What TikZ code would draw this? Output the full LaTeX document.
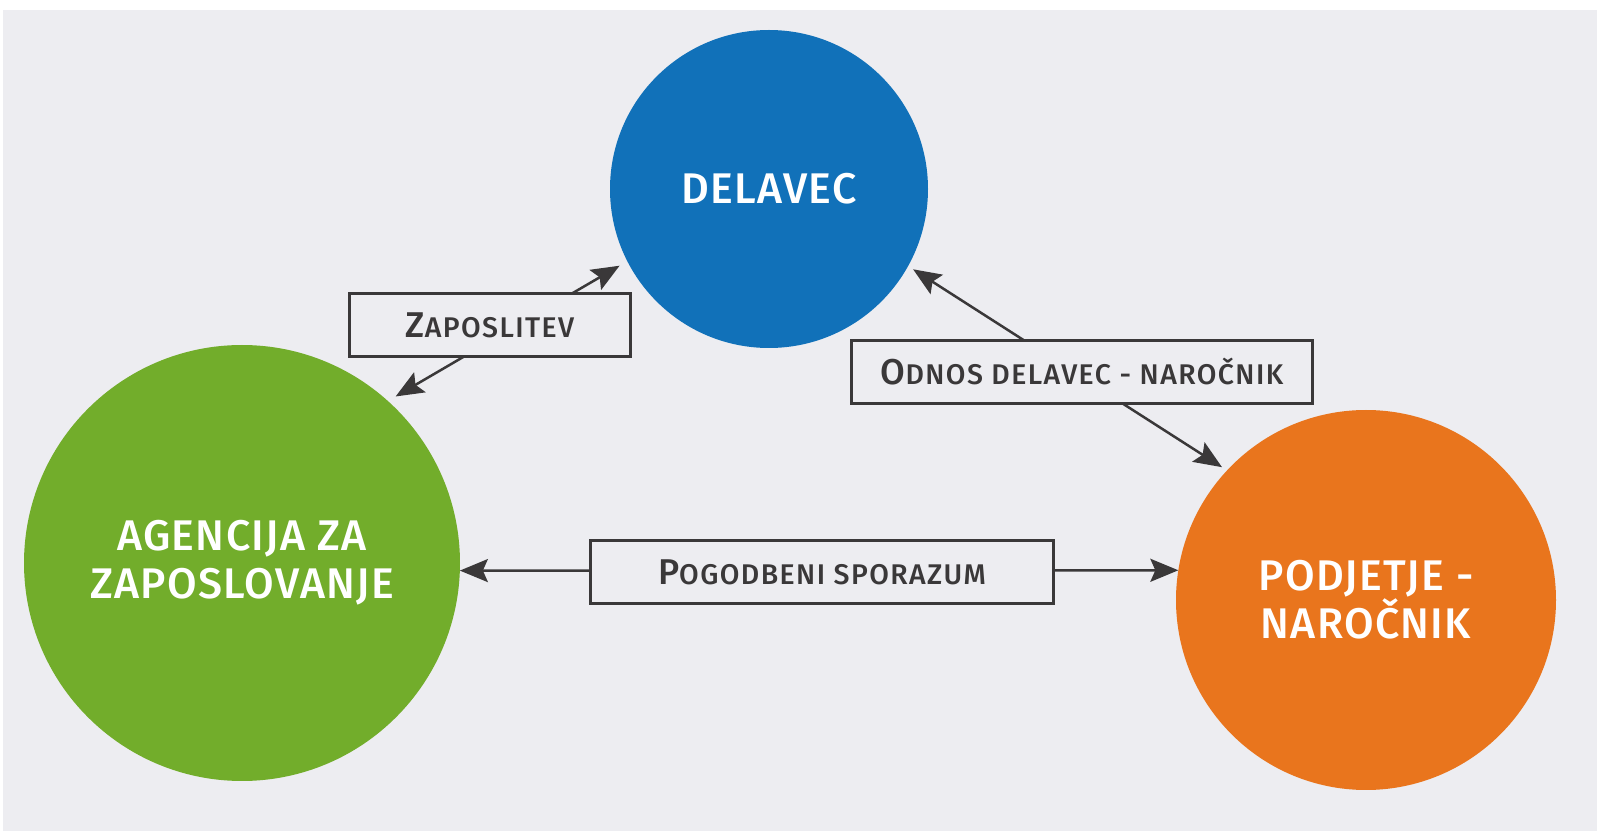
\documentclass[tikz,border=0pt]{standalone}
\usepackage{fontspec}
\setmainfont{Fira Sans}[BoldFont={Fira Sans Medium}]
\usepackage{tikz}
\usetikzlibrary{arrows.meta}
\definecolor{page}{HTML}{EDEDF1}
\definecolor{delavec}{HTML}{1171B9}
\definecolor{agencija}{HTML}{72AD2B}
\definecolor{narocnik}{HTML}{E9751D}
\definecolor{ink}{HTML}{3A3839}
\newcommand{\kap}[2]{{\fontsize{10.2}{12}\selectfont #1}{\fontsize{8.1}{10}\selectfont #2}}

\begin{document}
\begin{tikzpicture}[x=0.1mm, y=-0.1mm,
  krog/.style={circle, inner sep=0pt, outer sep=0pt, text=white, align=center, font=\fontsize{12.2}{13.7}\selectfont\bfseries\addfontfeatures{LetterSpace=3}},
  okvir/.style={draw=ink, line width=0.28mm, fill=page, minimum height=6.3mm, inner sep=0pt, text=ink, font=\bfseries\addfontfeatures{LetterSpace=5}},
  puscica/.style={draw=ink, line width=0.25mm, >={Stealth[length=2.8mm,width=2.3mm,inset=0.5mm]}, <->}]
\useasboundingbox (0,0) rectangle (1597,831);
\fill[white] (0,0) rectangle (1597,831);
\fill[page] (3,10) rectangle (1597,831);
\node[krog, fill=agencija, minimum size=43.6mm] (agencija) at (242,563) {AGENCIJA ZA\\ZAPOSLOVANJE};
\node[krog, fill=delavec, minimum size=31.8mm] (delavec) at (769,189) {DELAVEC};
\node[krog, fill=narocnik, minimum size=38mm] (podjetje) at (1366,600) {PODJETJE -\\NAROČNIK};
\draw[puscica, shorten <=0.9mm, shorten >=0.9mm] (agencija.48.6) -- (delavec.207.5);
\draw[puscica, shorten <=0.6mm, shorten >=0.6mm] (delavec.331.7) -- (podjetje.137.5);
\draw[puscica] (agencija.-2.4) -- (podjetje.171.5);
\node[okvir, minimum width=28.1mm] (zaposlitev) at (490,325) {\kap{Z}{APOSLITEV}};
\node[okvir, minimum width=46.1mm] (odnos) at (1082,372) {\kap{O}{DNOS DELAVEC - NAROČNIK}};
\node[okvir, minimum width=46.3mm] (pogodba) at (822,572) {\kap{P}{OGODBENI SPORAZUM}};
\end{tikzpicture}
\end{document}
